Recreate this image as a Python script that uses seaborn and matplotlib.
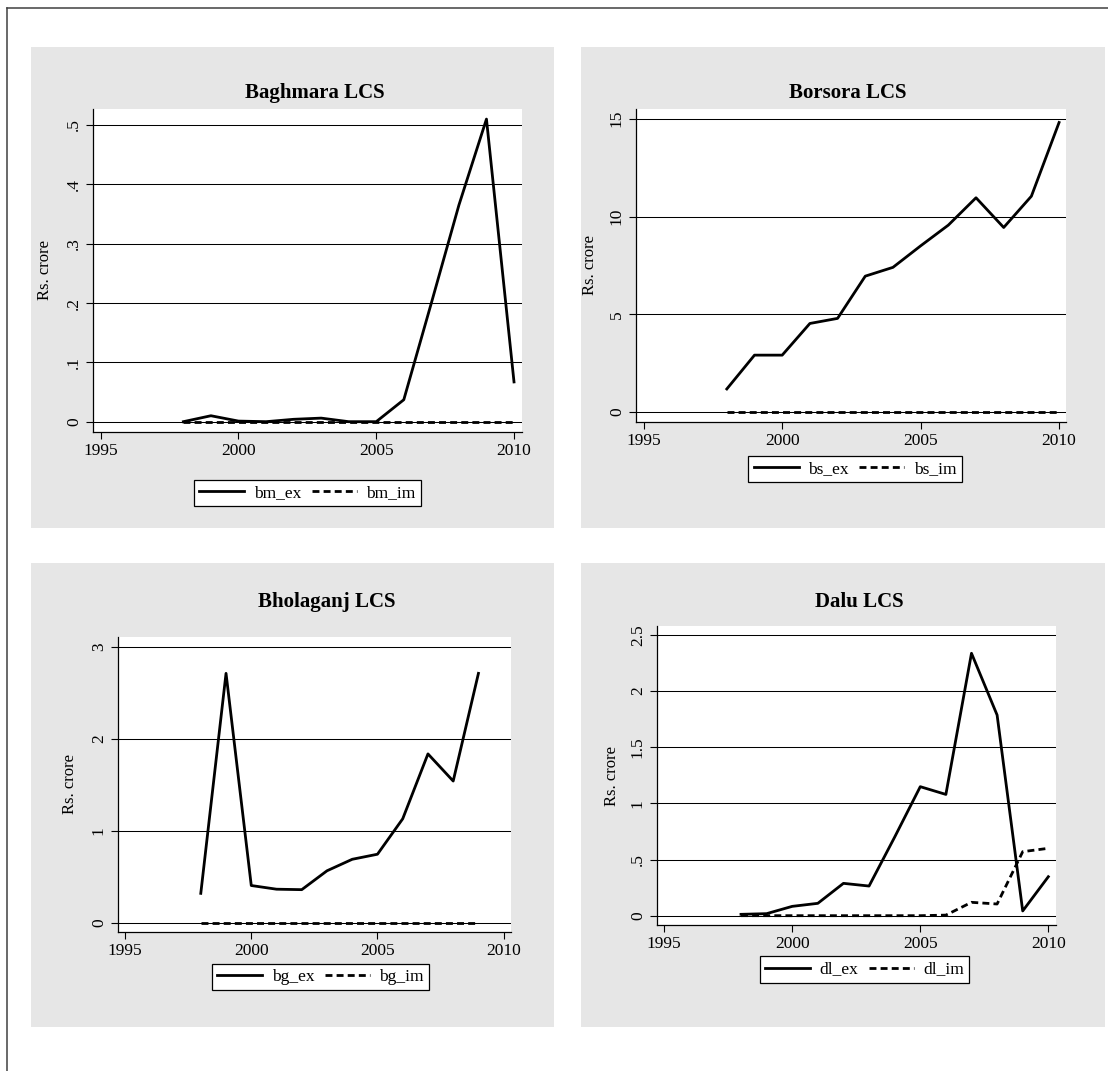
import numpy as np
import pandas as pd
import matplotlib
matplotlib.use("Agg")
import matplotlib.pyplot as plt
from matplotlib.patches import Rectangle
from matplotlib.lines import Line2D
import seaborn as sns

# ---- data (Rs. crore) ----
years_full = [1998, 1999, 2000, 2001, 2002, 2003, 2004, 2005, 2006, 2007, 2008, 2009, 2010]
years_bg = [1998, 1999, 2000, 2001, 2002, 2003, 2004, 2005, 2006, 2007, 2008, 2009]

bm_ex = [0.0, 0.010, 0.001, 0.0, 0.004, 0.006, 0.0, 0.0, 0.037, 0.20, 0.365, 0.51, 0.067]
bm_im = [0.0] * 13

bs_ex = [1.18, 2.91, 2.91, 4.53, 4.79, 6.95, 7.40, 8.50, 9.56, 10.96, 9.44, 11.04, 14.81]
bs_im = [0.0] * 13

bg_ex = [0.32, 2.71, 0.405, 0.365, 0.36, 0.565, 0.69, 0.745, 1.13, 1.835, 1.54, 2.71]
bg_im = [0.0] * 12

dl_ex = [0.012, 0.018, 0.083, 0.11, 0.288, 0.264, 0.70, 1.149, 1.08, 2.337, 1.787, 0.042, 0.347]
dl_im = [0.0, 0.0, 0.0, 0.0, 0.0, 0.0, 0.0, 0.0, 0.005, 0.119, 0.104, 0.57, 0.60]

titles = ["Baghmara LCS", "Borsora LCS", "Bholaganj LCS", "Dalu LCS"]
series_names = [("bm_ex", "bm_im"), ("bs_ex", "bs_im"), ("bg_ex", "bg_im"), ("dl_ex", "dl_im")]

x_ticks = [1995, 2000, 2005, 2010]
x_ticklabels = ["1995", "2000", "2005", "2010"]

y_ticks = [
    [0, 0.1, 0.2, 0.3, 0.4, 0.5],
    [0, 5, 10, 15],
    [0, 1, 2, 3],
    [0, 0.5, 1, 1.5, 2, 2.5],
]
y_ticklabels = [
    ["0", ".1", ".2", ".3", ".4", ".5"],
    ["0", "5", "10", "15"],
    ["0", "1", "2", "3"],
    ["0", ".5", "1", "1.5", "2", "2.5"],
]
y_limits = [(-0.0174, 0.527), (-0.51, 15.5), (-0.10, 3.105), (-0.083, 2.58)]
x_limits = [(1994.72, 2010.29), (1994.72, 2010.25), (1994.72, 2010.29), (1994.72, 2010.3)]

# ---- figure ----
W, H = 1108, 1071
plt.rcParams["font.family"] = ["Liberation Serif", "DejaVu Serif"]
fig = plt.figure(figsize=(W / 100, H / 100), dpi=100)
fig.patch.set_facecolor("white")


def fx(x):
    return x / W


def fy(y):
    return 1 - y / H


# frame lines along the top and left edges
fig.add_artist(Line2D([fx(7), fx(W)], [fy(7.5), fy(7.5)], color="#404040", lw=1.1,
                      transform=fig.transFigure))
fig.add_artist(Line2D([fx(7), fx(7)], [fy(7.5), fy(H)], color="#404040", lw=1.1,
                      transform=fig.transFigure))

# grey graph regions
panels = [(31, 47, 554, 528), (581, 47, 1105, 528), (31, 563, 554, 1027), (581, 563, 1105, 1027)]
for x0, y0, x1, y1 in panels:
    fig.add_artist(Rectangle((fx(x0), fy(y1)), fx(x1) - fx(x0), (y1 - y0) / H,
                             transform=fig.transFigure, facecolor="#e6e6e6",
                             edgecolor="none", zorder=0))

# plot regions (pixels: left, top, right, bottom)
plot_boxes = [(93, 109, 522, 432), (636, 109, 1066, 422), (118, 637, 511, 932), (657, 626, 1056, 925)]
title_pos = [(315, 93), (848, 93), (327, 602), (859, 602)]
legend_pos = [(307.5, 493), (855, 469), (320.5, 977), (864.5, 969.5)]
ylabel_x = [-0.093, -0.088, -0.102, -0.093]

data_sets = [
    (years_full, bm_ex, bm_im),
    (years_full, bs_ex, bs_im),
    (years_bg, bg_ex, bg_im),
    (years_full, dl_ex, dl_im),
]

for i, (yrs, ex, im) in enumerate(data_sets):
    l, t, r, b = plot_boxes[i]
    ax = fig.add_axes([fx(l), fy(b), (r - l) / W, (b - t) / H])
    ax.set_facecolor("white")

    df = pd.DataFrame({"year": yrs, "ex": ex, "im": im})
    sns.lineplot(data=df, x="year", y="ex", ax=ax, color="black", lw=2.0,
                 label=series_names[i][0])
    sns.lineplot(data=df, x="year", y="im", ax=ax, color="black", lw=2.0,
                 linestyle=(0, (2.5, 1.5)), label=series_names[i][1])

    ax.set_xlim(*x_limits[i])
    ax.set_ylim(*y_limits[i])
    ax.set_xticks(x_ticks)
    ax.set_xticklabels(x_ticklabels)
    ax.set_yticks(y_ticks[i])
    ax.set_yticklabels(y_ticklabels[i])
    for lab in ax.get_yticklabels():
        lab.set_rotation(90)
        lab.set_va("center")

    ax.tick_params(axis="both", direction="out", length=5, width=0.8, color="black",
                   labelsize=12.5, pad=3)
    ax.yaxis.grid(True, color="black", lw=0.75)
    ax.xaxis.grid(False)
    for side in ("top", "right"):
        ax.spines[side].set_visible(False)
    for side in ("left", "bottom"):
        ax.spines[side].set_color("black")
        ax.spines[side].set_linewidth(0.9)

    ax.set_xlabel("")
    ax.set_ylabel("Rs. crore", fontsize=12)
    ax.yaxis.set_label_coords(ylabel_x[i], 0.5)

    tx, ty = title_pos[i]
    fig.text(fx(tx), fy(ty), titles[i], ha="center", va="center",
             fontsize=15, fontweight="bold")

    cx, cy = legend_pos[i]
    leg = ax.legend(loc="center", bbox_to_anchor=(fx(cx), fy(cy)),
                    bbox_transform=fig.transFigure, ncol=2, frameon=True,
                    fancybox=False, framealpha=1, edgecolor="black", fontsize=12.5,
                    handlelength=2.6, columnspacing=0.6, handletextpad=0.55,
                    borderpad=0.3, borderaxespad=0)
    leg.get_frame().set_linewidth(0.9)

fig.savefig("out.png", dpi=100)
